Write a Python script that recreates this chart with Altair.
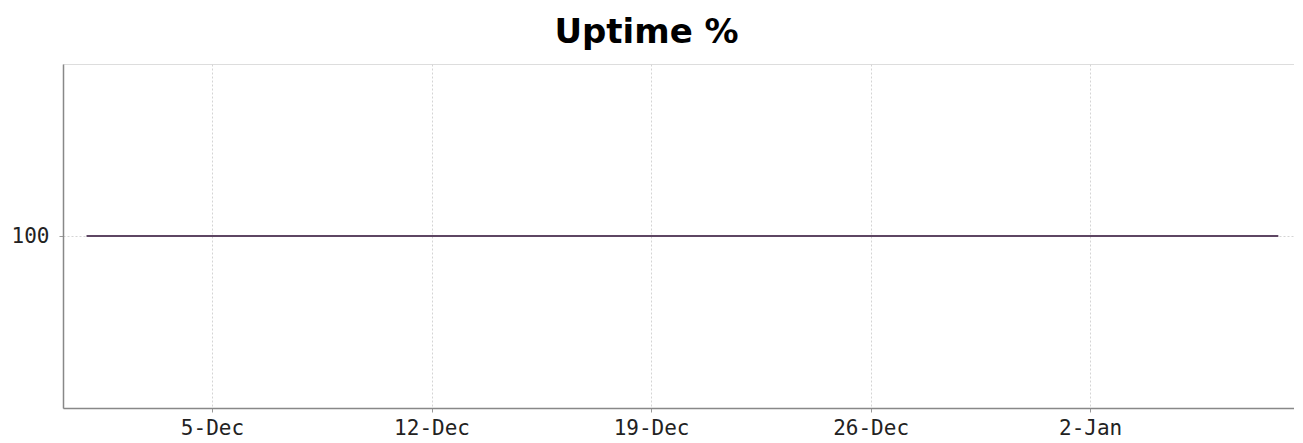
import altair as alt
import pandas as pd

dates = [
    "2023-12-01", "2023-12-02", "2023-12-03", "2023-12-04", "2023-12-05",
    "2023-12-06", "2023-12-07", "2023-12-08", "2023-12-09", "2023-12-10",
    "2023-12-11", "2023-12-12", "2023-12-13", "2023-12-14", "2023-12-15",
    "2023-12-16", "2023-12-17", "2023-12-18", "2023-12-19", "2023-12-20",
    "2023-12-21", "2023-12-22", "2023-12-23", "2023-12-24", "2023-12-25",
    "2023-12-26", "2023-12-27", "2023-12-28", "2023-12-29", "2023-12-30",
    "2023-12-31", "2024-01-01", "2024-01-02", "2024-01-03", "2024-01-04",
    "2024-01-05", "2024-01-06", "2024-01-07", "2024-01-08",
]
uptime = [
    100, 100, 100, 100, 100, 100, 100, 100, 100, 100,
    100, 100, 100, 100, 100, 100, 100, 100, 100, 100,
    100, 100, 100, 100, 100, 100, 100, 100, 100, 100,
    100, 100, 100, 100, 100, 100, 100, 100, 100,
]
x_ticks = ["2023-12-05", "2023-12-12", "2023-12-19", "2023-12-26", "2024-01-02"]
y_ticks = [100]

df = pd.DataFrame({"date": dates, "uptime": uptime})


def dt(s, h=0):
    y, m, d = (int(p) for p in s.split("-"))
    return alt.DateTime(year=y, month=m, date=d, hours=h, utc=True)


chart = (
    alt.Chart(df)
    .mark_line(color="#5e4663", strokeWidth=2)
    .encode(
        x=alt.X(
            "date:T",
            scale=alt.Scale(type="utc", domain=[dt("2023-11-30", 6), dt("2024-01-08", 12)]),
            axis=alt.Axis(
                values=[dt(s) for s in x_ticks],
                format="%-d-%b",
                title=None,
                grid=True,
                gridColor="#d4d4d4",
                gridDash=[2, 2],
                gridWidth=1,
                domainColor="#888888",
                domainWidth=1.5,
                tickColor="#999999",
                tickSize=4,
                labelFont="DejaVu Sans Mono",
                labelFontSize=21,
                labelColor="#222222",
                labelPadding=5,
            ),
        ),
        y=alt.Y(
            "uptime:Q",
            scale=alt.Scale(domain=[99, 101]),
            axis=alt.Axis(
                values=y_ticks,
                format="d",
                title=None,
                grid=True,
                gridColor="#d4d4d4",
                gridDash=[2, 2],
                domainColor="#888888",
                domainWidth=1.5,
                tickColor="#999999",
                tickSize=4,
                labelFont="DejaVu Sans Mono",
                labelFontSize=21,
                labelColor="#222222",
                labelPadding=10,
            ),
        ),
    )
    .properties(
        width=1231,
        height=344,
        title=alt.TitleParams(
            "Uptime %",
            font="DejaVu Sans",
            fontSize=34,
            fontWeight="bold",
            color="#000000",
            anchor="middle",
            dx=-32,
            offset=14,
        ),
        autosize=alt.AutoSizeParams(type="none"),
        padding={"left": 55, "top": 56, "right": 0, "bottom": 35},
    )
    .configure_view(stroke="#bbbbbb", strokeWidth=1)
    .configure(background="white")
)

chart.save("out.html", embed_options={"renderer": "svg", "actions": False})
